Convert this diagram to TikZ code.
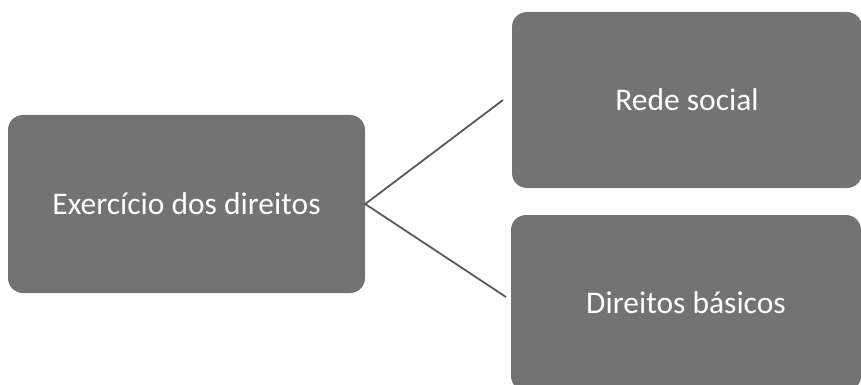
\documentclass[tikz,border=0pt]{standalone}
\usepackage{fontspec}
\setmainfont{Carlito}
\definecolor{boxgrey}{HTML}{737373}
\definecolor{linegrey}{HTML}{595959}
\begin{document}
\begin{tikzpicture}[x=1pt,y=-1pt,
  gbox/.style={fill=boxgrey, draw=none, rounded corners=15pt, text=white,
    font=\fontsize{31.5}{36}\selectfont, inner sep=0pt},
  conn/.style={draw=linegrey, line width=1.8pt}]
\useasboundingbox (0,0) rectangle (861,385);
\node[gbox, minimum width=357pt, minimum height=178pt] (ex) at (186.5,204) {Exercício dos direitos};
\node[gbox, minimum width=350pt, minimum height=176pt] (rs) at (687,100) {Rede social};
\node[gbox, minimum width=350pt, minimum height=176pt] (db) at (686,303) {Direitos básicos};
\coordinate (t1) at (503,100);
\coordinate (t2) at (506,297);
\draw[conn] (t1) -- (ex.east) -- (t2);
\end{tikzpicture}
\end{document}
